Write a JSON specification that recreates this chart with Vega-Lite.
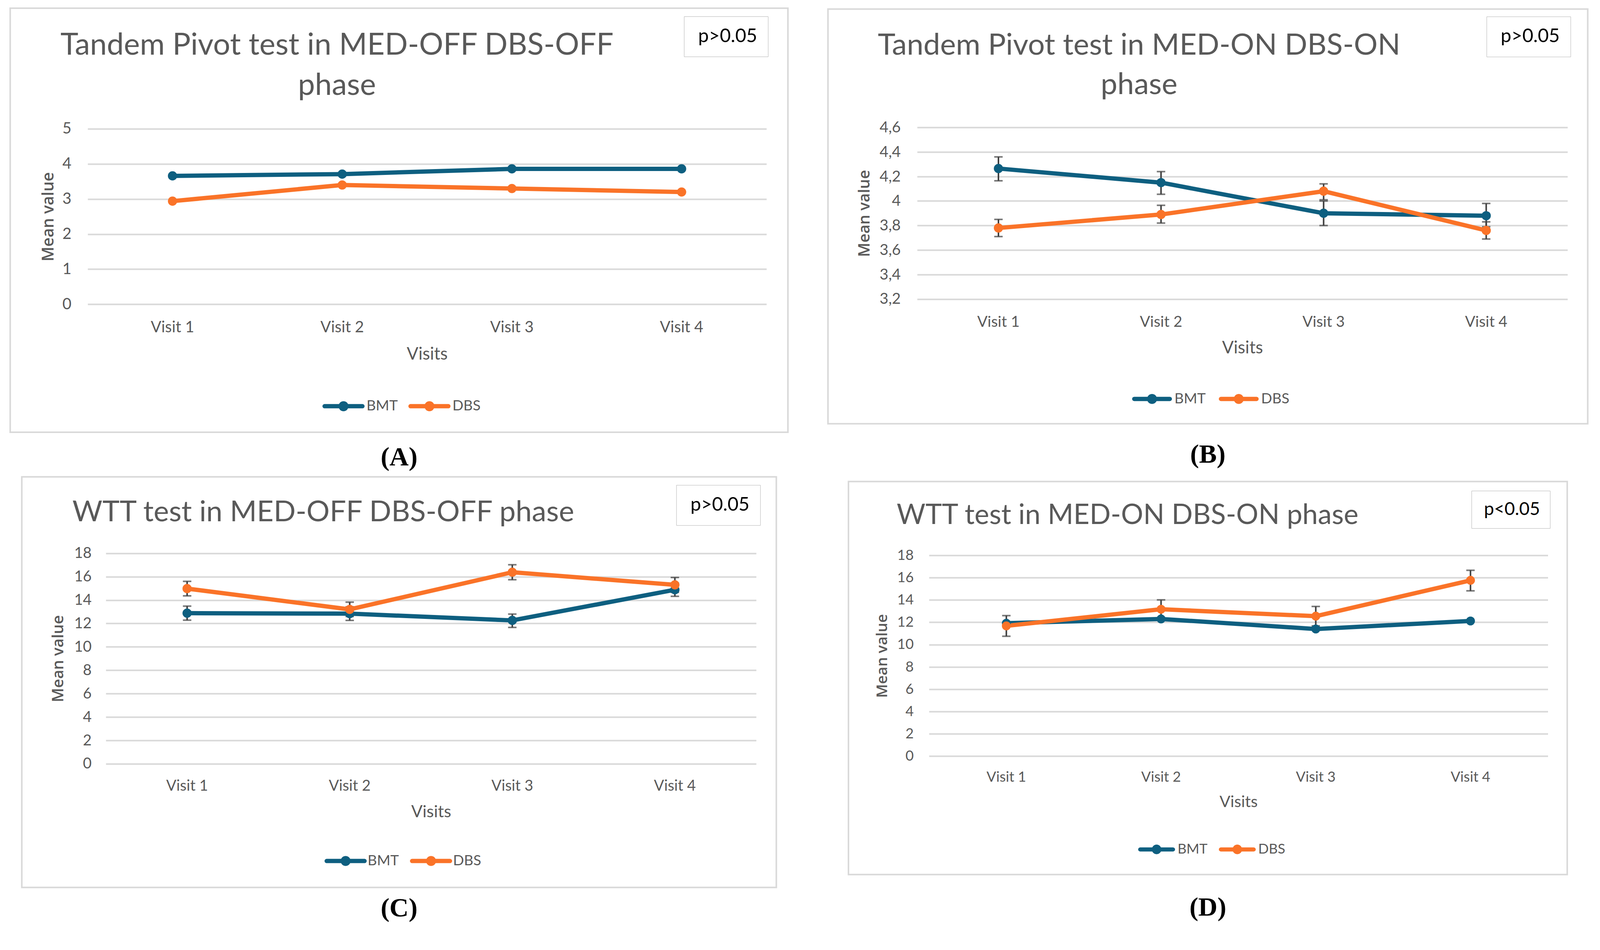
{
  "$schema": "https://vega.github.io/schema/vega-lite/v6.json",
  "background": "white",
  "padding": {"left": 24.1, "top": 18.6, "right": 0, "bottom": 0},
  "datasets": {
    "A": [
      {"visit": "Visit 1", "group": "BMT", "mean": 3.66},
      {"visit": "Visit 2", "group": "BMT", "mean": 3.71},
      {"visit": "Visit 3", "group": "BMT", "mean": 3.86},
      {"visit": "Visit 4", "group": "BMT", "mean": 3.86},
      {"visit": "Visit 1", "group": "DBS", "mean": 2.94},
      {"visit": "Visit 2", "group": "DBS", "mean": 3.40},
      {"visit": "Visit 3", "group": "DBS", "mean": 3.30},
      {"visit": "Visit 4", "group": "DBS", "mean": 3.20}
    ],
    "B": [
      {"visit": "Visit 1", "group": "BMT", "mean": 4.265, "lo": 4.165, "hi": 4.36},
      {"visit": "Visit 2", "group": "BMT", "mean": 4.15, "lo": 4.055, "hi": 4.24},
      {"visit": "Visit 3", "group": "BMT", "mean": 3.90, "lo": 3.80, "hi": 4.00},
      {"visit": "Visit 4", "group": "BMT", "mean": 3.88, "lo": 3.79, "hi": 3.98},
      {"visit": "Visit 1", "group": "DBS", "mean": 3.78, "lo": 3.71, "hi": 3.85},
      {"visit": "Visit 2", "group": "DBS", "mean": 3.89, "lo": 3.82, "hi": 3.965},
      {"visit": "Visit 3", "group": "DBS", "mean": 4.08, "lo": 4.01, "hi": 4.14},
      {"visit": "Visit 4", "group": "DBS", "mean": 3.76, "lo": 3.69, "hi": 3.83}
    ],
    "C": [
      {"visit": "Visit 1", "group": "BMT", "mean": 12.88, "lo": 12.28, "hi": 13.48},
      {"visit": "Visit 2", "group": "BMT", "mean": 12.84, "lo": 12.26, "hi": 13.42},
      {"visit": "Visit 3", "group": "BMT", "mean": 12.26, "lo": 11.66, "hi": 12.80},
      {"visit": "Visit 4", "group": "BMT", "mean": 14.88, "lo": 14.32, "hi": 15.44},
      {"visit": "Visit 1", "group": "DBS", "mean": 14.98, "lo": 14.36, "hi": 15.60},
      {"visit": "Visit 2", "group": "DBS", "mean": 13.20, "lo": 12.60, "hi": 13.82},
      {"visit": "Visit 3", "group": "DBS", "mean": 16.38, "lo": 15.74, "hi": 17.02},
      {"visit": "Visit 4", "group": "DBS", "mean": 15.30, "lo": 14.66, "hi": 15.93}
    ],
    "D": [
      {"visit": "Visit 1", "group": "BMT", "mean": 11.92, "lo": null, "hi": null},
      {"visit": "Visit 2", "group": "BMT", "mean": 12.30, "lo": null, "hi": null},
      {"visit": "Visit 3", "group": "BMT", "mean": 11.40, "lo": null, "hi": null},
      {"visit": "Visit 4", "group": "BMT", "mean": 12.12, "lo": null, "hi": null},
      {"visit": "Visit 1", "group": "DBS", "mean": 11.68, "lo": 10.75, "hi": 12.60},
      {"visit": "Visit 2", "group": "DBS", "mean": 13.17, "lo": 12.33, "hi": 14.01},
      {"visit": "Visit 3", "group": "DBS", "mean": 12.55, "lo": 11.68, "hi": 13.42},
      {"visit": "Visit 4", "group": "DBS", "mean": 15.76, "lo": 14.82, "hi": 16.66}
    ]
  },
  "spacing": 98.5,
  "center": true,
  "resolve": {"scale": {"color": "independent", "shape": "independent"}, "legend": {"color": "independent", "shape": "independent"}},
  "hconcat": [
    {
      "center": true,
      "spacing": 11.2,
      "resolve": {"scale": {"color": "independent", "shape": "independent"}, "legend": {"color": "independent", "shape": "independent"}},
      "vconcat": [
        {
          "width": 1991, "height": 1086,
          "data": {"name": "A"},
          "title": {"text": "(A)", "orient": "bottom", "anchor": "middle", "frame": "group", "offset": 30.8, "font": "Liberation Serif", "fontSize": 68, "fontWeight": "bold", "color": "#000000"},
          "resolve": {"axis": {"x": "independent"}},
          "layer": [
            {
              "mark": {"type": "line", "strokeWidth": 11, "strokeJoin": "round", "strokeCap": "round"},
              "encoding": {
                "x": {"field": "visit", "type": "nominal", "title": "Visits",
                  "scale": {"type": "band", "range": [198.3, 1936.0], "paddingInner": 0, "paddingOuter": 0},
                  "axis": {"orient": "bottom", "offset": -327.7, "labelPadding": 39, "labelAngle": 0, "labelFontSize": 40, "titleFontSize": 44, "titleY": 128.5, "titleBaseline": "middle"}},
                "y": {"field": "mean", "type": "quantitative", "title": "Mean value",
                  "scale": {"domain": [0, 5], "range": [758.3, 309.0], "nice": false, "zero": false},
                  "axis": {"values": [0, 1, 2, 3, 4, 5], "format": "d", "offset": -166.3, "labelPadding": 10, "labelFontSize": 40, "titleFontSize": 41, "titleX": -68.4, "titleBaseline": "middle"}},
                "color": {"field": "group", "type": "nominal", "scale": {"domain": ["BMT", "DBS"], "range": ["#0e5f80", "#fa7328"]},
                  "legend": {"orient": "none", "legendX": 799.3, "legendY": 965, "direction": "horizontal", "title": null, "padding": 0,
                    "symbolType": "M-1,0L1,0M0.15,0A0.15,0.15,0,1,1,-0.15,0A0.15,0.15,0,1,1,0.15,0Z",
                    "symbolSize": 9409, "symbolStrokeWidth": 11, "labelFontSize": 37, "labelOffset": 4.8, "columnPadding": 10,
                    "encode": {"symbols": {"update": {"fill": {"signal": "datum.value === 'BMT' ? '#0e5f80' : '#fa7328'"}, "stroke": {"signal": "datum.value === 'BMT' ? '#0e5f80' : '#fa7328'"}, "strokeWidth": {"value": 11}, "strokeCap": {"value": "round"}, "opacity": {"value": 1}}}}}}
              }
            },
            {
              "mark": {"type": "point", "filled": true, "size": 560, "opacity": 1},
              "encoding": {
                "x": {"field": "visit", "type": "nominal",
                  "scale": {"type": "band", "range": [198.3, 1936.0], "paddingInner": 0, "paddingOuter": 0},
                  "axis": {"orient": "top", "offset": 0, "labels": false, "title": ["Tandem Pivot test in MED-OFF DBS-OFF", "phase"], "titleX": 836, "titleY": 118.7, "titleAlign": "center", "titleBaseline": "alphabetic", "titleAngle": 0, "titleLineHeight": 103, "titleLimit": 3000, "titleFont": "Lato", "titleFontSize": 77.6, "titleFontWeight": "normal", "titleColor": "#595959"}},
                "y": {"field": "mean", "type": "quantitative"},
                "color": {"field": "group", "type": "nominal", "scale": {"domain": ["BMT", "DBS"], "range": ["#0e5f80", "#fa7328"]},
                  "legend": {"orient": "none", "legendX": 799.3, "legendY": 965, "direction": "horizontal", "title": null, "padding": 0,
                    "symbolType": "M-1,0L1,0M0.15,0A0.15,0.15,0,1,1,-0.15,0A0.15,0.15,0,1,1,0.15,0Z",
                    "symbolSize": 9409, "symbolStrokeWidth": 11, "labelFontSize": 37, "labelOffset": 4.8, "columnPadding": 10,
                    "encode": {"symbols": {"update": {"fill": {"signal": "datum.value === 'BMT' ? '#0e5f80' : '#fa7328'"}, "stroke": {"signal": "datum.value === 'BMT' ? '#0e5f80' : '#fa7328'"}, "strokeWidth": {"value": 11}, "strokeCap": {"value": "round"}, "opacity": {"value": 1}}}}}},
                "shape": {"datum": "p>0.05", "type": "nominal", "scale": {"range": ["circle"]},
                  "legend": {"orient": "none", "legendX": 1725, "legendY": 21, "title": null, "padding": 26.75, "symbolSize": 0, "symbolOpacity": 0, "symbolStrokeWidth": 0, "labelOffset": -39, "labelLimit": 400, "labelFontSize": 48.5, "labelColor": "#000000", "strokeColor": "#b4b4b4", "fillColor": "#ffffff", "labelExpr": "'\u00a0\u00a0' + datum.label + '\u00a0\u00a0'"}}
              }
            }
          ]
        },
        {
          "width": 1931.6, "height": 1051.6,
          "data": {"name": "C"},
          "title": {"text": "(C)", "orient": "bottom", "anchor": "middle", "frame": "group", "offset": 20.4, "font": "Liberation Serif", "fontSize": 68, "fontWeight": "bold", "color": "#000000"},
          "resolve": {"axis": {"x": "independent"}},
          "layer": [
            {
              "transform": [{"filter": "isValid(datum.lo)"}],
              "mark": {"type": "errorbar", "ticks": true, "size": 21.6, "thickness": 4, "color": "#404040"},
              "encoding": {
                "x": {"field": "visit", "type": "nominal", "scale": {"type": "band", "range": [215.1, 1880.0], "paddingInner": 0, "paddingOuter": 0}, "axis": null},
                "y": {"field": "lo", "type": "quantitative", "title": "Mean value", "scale": {"domain": [0, 18], "range": [734.8, 195.8], "nice": false, "zero": false}},
                "y2": {"field": "hi"}
              }
            },
            {
              "mark": {"type": "line", "strokeWidth": 11, "strokeJoin": "round", "strokeCap": "round"},
              "encoding": {
                "x": {"field": "visit", "type": "nominal", "title": "Visits",
                  "scale": {"type": "band", "range": [215.1, 1880.0], "paddingInner": 0, "paddingOuter": 0},
                  "axis": {"orient": "bottom", "offset": -316.8, "labelPadding": 39, "labelAngle": 0, "labelFontSize": 38.5, "titleFontSize": 43, "titleY": 123.6, "titleBaseline": "middle"}},
                "y": {"field": "mean", "type": "quantitative", "title": "Mean value",
                  "scale": {"domain": [0, 18], "range": [734.8, 195.8], "nice": false, "zero": false},
                  "axis": {"values": [0, 2, 4, 6, 8, 10, 12, 14, 16, 18], "format": "d", "offset": -188.4, "labelPadding": 10, "labelFontSize": 38.5, "titleFontSize": 40, "titleX": -95, "titleBaseline": "middle"}},
                "color": {"field": "group", "type": "nominal", "scale": {"domain": ["BMT", "DBS"], "range": ["#0e5f80", "#fa7328"]},
                  "legend": {"orient": "none", "legendX": 775, "legendY": 929.5, "direction": "horizontal", "title": null, "padding": 0,
                    "symbolType": "M-1,0L1,0M0.15,0A0.15,0.15,0,1,1,-0.15,0A0.15,0.15,0,1,1,0.15,0Z",
                    "symbolSize": 9409, "symbolStrokeWidth": 11, "labelFontSize": 37, "labelOffset": 2.2, "columnPadding": 10.7,
                    "encode": {"symbols": {"update": {"fill": {"signal": "datum.value === 'BMT' ? '#0e5f80' : '#fa7328'"}, "stroke": {"signal": "datum.value === 'BMT' ? '#0e5f80' : '#fa7328'"}, "strokeWidth": {"value": 11}, "strokeCap": {"value": "round"}, "opacity": {"value": 1}}}}}}
              }
            },
            {
              "mark": {"type": "point", "filled": true, "size": 560, "opacity": 1},
              "encoding": {
                "x": {"field": "visit", "type": "nominal",
                  "scale": {"type": "band", "range": [215.1, 1880.0], "paddingInner": 0, "paddingOuter": 0},
                  "axis": {"orient": "top", "offset": 0, "labels": false, "title": "WTT test in MED-OFF DBS-OFF phase", "titleX": 771.3, "titleY": 113.8, "titleAlign": "center", "titleBaseline": "alphabetic", "titleAngle": 0, "titleLimit": 3000, "titleFont": "Lato", "titleFontSize": 74.3, "titleFontWeight": "normal", "titleColor": "#595959"}},
                "y": {"field": "mean", "type": "quantitative"},
                "color": {"field": "group", "type": "nominal", "scale": {"domain": ["BMT", "DBS"], "range": ["#0e5f80", "#fa7328"]},
                  "legend": {"orient": "none", "legendX": 775, "legendY": 929.5, "direction": "horizontal", "title": null, "padding": 0,
                    "symbolType": "M-1,0L1,0M0.15,0A0.15,0.15,0,1,1,-0.15,0A0.15,0.15,0,1,1,0.15,0Z",
                    "symbolSize": 9409, "symbolStrokeWidth": 11, "labelFontSize": 37, "labelOffset": 2.2, "columnPadding": 10.7,
                    "encode": {"symbols": {"update": {"fill": {"signal": "datum.value === 'BMT' ? '#0e5f80' : '#fa7328'"}, "stroke": {"signal": "datum.value === 'BMT' ? '#0e5f80' : '#fa7328'"}, "strokeWidth": {"value": 11}, "strokeCap": {"value": "round"}, "opacity": {"value": 1}}}}}},
                "shape": {"datum": "p>0.05", "type": "nominal", "scale": {"range": ["circle"]},
                  "legend": {"orient": "none", "legendX": 1675.5, "legendY": 21, "title": null, "padding": 26.75, "symbolSize": 0, "symbolOpacity": 0, "symbolStrokeWidth": 0, "labelOffset": -39, "labelLimit": 400, "labelFontSize": 48.5, "labelColor": "#000000", "strokeColor": "#b4b4b4", "fillColor": "#ffffff", "labelExpr": "'\u00a0\u00a0' + datum.label + '\u00a0\u00a0'"}}
              }
            }
          ]
        }
      ]
    },
    {
      "center": true,
      "spacing": 30,
      "resolve": {"scale": {"color": "independent", "shape": "independent"}, "legend": {"color": "independent", "shape": "independent"}},
      "vconcat": [
        {
          "width": 1945, "height": 1062,
          "data": {"name": "B"},
          "title": {"text": "(B)", "orient": "bottom", "anchor": "middle", "frame": "group", "offset": 46, "font": "Liberation Serif", "fontSize": 68, "fontWeight": "bold", "color": "#000000"},
          "resolve": {"axis": {"x": "independent"}},
          "layer": [
            {
              "transform": [{"filter": "isValid(datum.lo)"}],
              "mark": {"type": "errorbar", "ticks": true, "size": 21.6, "thickness": 4, "color": "#404040"},
              "encoding": {
                "x": {"field": "visit", "type": "nominal", "scale": {"type": "band", "range": [228.3, 1893.2], "paddingInner": 0, "paddingOuter": 0}, "axis": null},
                "y": {"field": "lo", "type": "quantitative", "title": "Mean value", "scale": {"domain": [3.2, 4.6], "range": [742.6, 303.1], "nice": false, "zero": false}},
                "y2": {"field": "hi"}
              }
            },
            {
              "mark": {"type": "line", "strokeWidth": 11, "strokeJoin": "round", "strokeCap": "round"},
              "encoding": {
                "x": {"field": "visit", "type": "nominal", "title": "Visits",
                  "scale": {"type": "band", "range": [228.3, 1893.2], "paddingInner": 0, "paddingOuter": 0},
                  "axis": {"orient": "bottom", "offset": -319.4, "labelPadding": 40, "labelAngle": 0, "labelFontSize": 39, "titleFontSize": 44, "titleY": 125.6, "titleBaseline": "middle"}},
                "y": {"field": "mean", "type": "quantitative", "title": "Mean value",
                  "scale": {"domain": [3.2, 4.6], "range": [742.6, 303.1], "nice": false, "zero": false},
                  "axis": {"values": [3.2, 3.4, 3.6, 3.8, 4, 4.2, 4.4, 4.6], "format": "~g", "labelExpr": "replace(datum.label, '.', ',')", "offset": -195.8, "labelPadding": 10, "labelFontSize": 39, "titleFontSize": 40, "titleX": -102.3, "titleBaseline": "middle"}},
                "color": {"field": "group", "type": "nominal", "scale": {"domain": ["BMT", "DBS"], "range": ["#0e5f80", "#fa7328"]},
                  "legend": {"orient": "none", "legendX": 778.6, "legendY": 947, "direction": "horizontal", "title": null, "padding": 0,
                    "symbolType": "M-1,0L1,0M0.159,0A0.159,0.159,0,1,1,-0.159,0A0.159,0.159,0,1,1,0.159,0Z",
                    "symbolSize": 8281, "symbolStrokeWidth": 11, "labelFontSize": 37, "labelOffset": 6.4, "columnPadding": 16,
                    "encode": {"symbols": {"update": {"fill": {"signal": "datum.value === 'BMT' ? '#0e5f80' : '#fa7328'"}, "stroke": {"signal": "datum.value === 'BMT' ? '#0e5f80' : '#fa7328'"}, "strokeWidth": {"value": 11}, "strokeCap": {"value": "round"}, "opacity": {"value": 1}}}}}}
              }
            },
            {
              "mark": {"type": "point", "filled": true, "size": 560, "opacity": 1},
              "encoding": {
                "x": {"field": "visit", "type": "nominal",
                  "scale": {"type": "band", "range": [228.3, 1893.2], "paddingInner": 0, "paddingOuter": 0},
                  "axis": {"orient": "top", "offset": 0, "labels": false, "title": ["Tandem Pivot test in MED-ON DBS-ON", "phase"], "titleX": 796, "titleY": 115.8, "titleAlign": "center", "titleBaseline": "alphabetic", "titleAngle": 0, "titleLineHeight": 101, "titleLimit": 3000, "titleFont": "Lato", "titleFontSize": 76.3, "titleFontWeight": "normal", "titleColor": "#595959"}},
                "y": {"field": "mean", "type": "quantitative"},
                "color": {"field": "group", "type": "nominal", "scale": {"domain": ["BMT", "DBS"], "range": ["#0e5f80", "#fa7328"]},
                  "legend": {"orient": "none", "legendX": 778.6, "legendY": 947, "direction": "horizontal", "title": null, "padding": 0,
                    "symbolType": "M-1,0L1,0M0.159,0A0.159,0.159,0,1,1,-0.159,0A0.159,0.159,0,1,1,0.159,0Z",
                    "symbolSize": 8281, "symbolStrokeWidth": 11, "labelFontSize": 37, "labelOffset": 6.4, "columnPadding": 16,
                    "encode": {"symbols": {"update": {"fill": {"signal": "datum.value === 'BMT' ? '#0e5f80' : '#fa7328'"}, "stroke": {"signal": "datum.value === 'BMT' ? '#0e5f80' : '#fa7328'"}, "strokeWidth": {"value": 11}, "strokeCap": {"value": "round"}, "opacity": {"value": 1}}}}}},
                "shape": {"datum": "p>0.05", "type": "nominal", "scale": {"range": ["circle"]},
                  "legend": {"orient": "none", "legendX": 1686, "legendY": 19, "title": null, "padding": 26.75, "symbolSize": 0, "symbolOpacity": 0, "symbolStrokeWidth": 0, "labelOffset": -39, "labelLimit": 400, "labelFontSize": 48.5, "labelColor": "#000000", "strokeColor": "#b4b4b4", "fillColor": "#ffffff", "labelExpr": "'\u00a0\u00a0' + datum.label + '\u00a0\u00a0'"}}
              }
            }
          ]
        },
        {
          "width": 1840, "height": 1006.5,
          "data": {"name": "D"},
          "title": {"text": "(D)", "orient": "bottom", "anchor": "middle", "frame": "group", "offset": 51, "font": "Liberation Serif", "fontSize": 68, "fontWeight": "bold", "color": "#000000"},
          "resolve": {"axis": {"x": "independent"}},
          "layer": [
            {
              "transform": [{"filter": "isValid(datum.lo)"}],
              "mark": {"type": "errorbar", "ticks": true, "size": 21.6, "thickness": 4, "color": "#404040"},
              "encoding": {
                "x": {"field": "visit", "type": "nominal", "scale": {"type": "band", "range": [206.1, 1790.4], "paddingInner": 0, "paddingOuter": 0}, "axis": null},
                "y": {"field": "lo", "type": "quantitative", "title": "Mean value", "scale": {"domain": [0, 18], "range": [703.4, 188.9], "nice": false, "zero": false}},
                "y2": {"field": "hi"}
              }
            },
            {
              "mark": {"type": "line", "strokeWidth": 11, "strokeJoin": "round", "strokeCap": "round"},
              "encoding": {
                "x": {"field": "visit", "type": "nominal", "title": "Visits",
                  "scale": {"type": "band", "range": [206.1, 1790.4], "paddingInner": 0, "paddingOuter": 0},
                  "axis": {"orient": "bottom", "offset": -303.1, "labelPadding": 36, "labelAngle": 0, "labelFontSize": 36.5, "titleFontSize": 41, "titleY": 117.7, "titleBaseline": "middle"}},
                "y": {"field": "mean", "type": "quantitative", "title": "Mean value",
                  "scale": {"domain": [0, 18], "range": [703.4, 188.9], "nice": false, "zero": false},
                  "axis": {"values": [0, 2, 4, 6, 8, 10, 12, 14, 16, 18], "format": "d", "offset": -176.6, "labelPadding": 10, "labelFontSize": 36.5, "titleFontSize": 38.5, "titleX": -90.5, "titleBaseline": "middle"}},
                "color": {"field": "group", "type": "nominal", "scale": {"domain": ["BMT", "DBS"], "range": ["#0e5f80", "#fa7328"]},
                  "legend": {"orient": "none", "legendX": 741.3, "legendY": 894.3, "direction": "horizontal", "title": null, "padding": 0,
                    "symbolType": "M-1,0L1,0M0.167,0A0.167,0.167,0,1,1,-0.167,0A0.167,0.167,0,1,1,0.167,0Z",
                    "symbolSize": 7056, "symbolStrokeWidth": 10.5, "labelFontSize": 35.5, "labelOffset": 6, "columnPadding": 12.6,
                    "encode": {"symbols": {"update": {"fill": {"signal": "datum.value === 'BMT' ? '#0e5f80' : '#fa7328'"}, "stroke": {"signal": "datum.value === 'BMT' ? '#0e5f80' : '#fa7328'"}, "strokeWidth": {"value": 10.5}, "strokeCap": {"value": "round"}, "opacity": {"value": 1}}}}}}
              }
            },
            {
              "mark": {"type": "point", "filled": true, "size": 520, "opacity": 1},
              "encoding": {
                "x": {"field": "visit", "type": "nominal",
                  "scale": {"type": "band", "range": [206.1, 1790.4], "paddingInner": 0, "paddingOuter": 0},
                  "axis": {"orient": "top", "offset": 0, "labels": false, "title": "WTT test in MED-ON DBS-ON phase", "titleX": 714, "titleY": 108, "titleAlign": "center", "titleBaseline": "alphabetic", "titleAngle": 0, "titleLimit": 3000, "titleFont": "Lato", "titleFontSize": 71.2, "titleFontWeight": "normal", "titleColor": "#595959"}},
                "y": {"field": "mean", "type": "quantitative"},
                "color": {"field": "group", "type": "nominal", "scale": {"domain": ["BMT", "DBS"], "range": ["#0e5f80", "#fa7328"]},
                  "legend": {"orient": "none", "legendX": 741.3, "legendY": 894.3, "direction": "horizontal", "title": null, "padding": 0,
                    "symbolType": "M-1,0L1,0M0.167,0A0.167,0.167,0,1,1,-0.167,0A0.167,0.167,0,1,1,0.167,0Z",
                    "symbolSize": 7056, "symbolStrokeWidth": 10.5, "labelFontSize": 35.5, "labelOffset": 6, "columnPadding": 12.6,
                    "encode": {"symbols": {"update": {"fill": {"signal": "datum.value === 'BMT' ? '#0e5f80' : '#fa7328'"}, "stroke": {"signal": "datum.value === 'BMT' ? '#0e5f80' : '#fa7328'"}, "strokeWidth": {"value": 10.5}, "strokeCap": {"value": "round"}, "opacity": {"value": 1}}}}}},
                "shape": {"datum": "p<0.05", "type": "nominal", "scale": {"range": ["circle"]},
                  "legend": {"orient": "none", "legendX": 1595, "legendY": 23.5, "title": null, "padding": 25, "symbolSize": 0, "symbolOpacity": 0, "symbolStrokeWidth": 0, "labelOffset": -39, "labelLimit": 400, "labelFontSize": 46, "labelColor": "#000000", "strokeColor": "#b4b4b4", "fillColor": "#ffffff", "labelExpr": "'\u00a0\u00a0' + datum.label + '\u00a0\u00a0'"}}
              }
            }
          ]
        }
      ]
    }
  ],
  "config": {
    "view": {"stroke": "#d9d9d9", "strokeWidth": 4, "fill": "#ffffff"},
    "axis": {"domain": false, "ticks": false, "gridColor": "#d9d9d9", "gridWidth": 4, "labelFont": "Lato", "labelColor": "#595959", "titleFont": "Lato", "titleColor": "#595959", "titleFontWeight": "normal"},
    "axisX": {"grid": false},
    "axisY": {"titleFont": "Open Sans", "titleFontWeight": 600},
    "legend": {"labelFont": "Lato", "labelColor": "#595959"}
  }
}
